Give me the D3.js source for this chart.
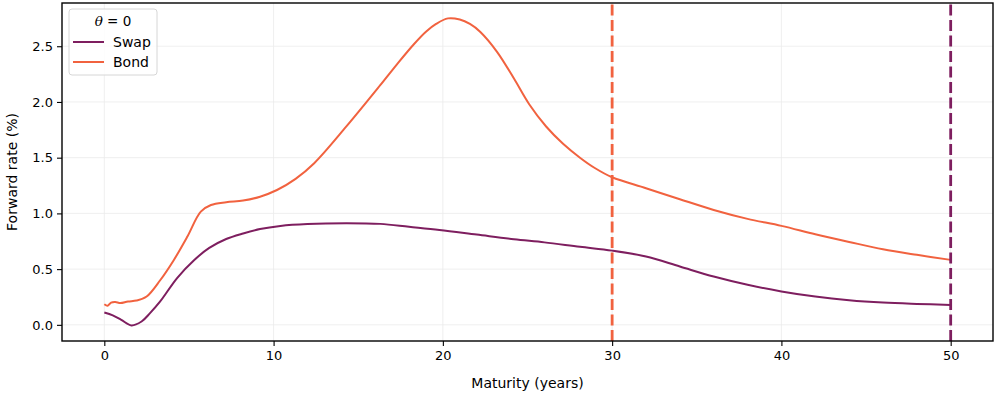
<!DOCTYPE html>
<html>
<head>
<meta charset="utf-8">
<script src="https://cdn.jsdelivr.net/npm/d3@7"></script>
<style>
  body { margin: 0; background: #fff; }
  svg { display: block; font-family: "DejaVu Sans", sans-serif; }
</style>
</head>
<body>
<script>
const W = 996, H = 395;
const margin = {left: 62, right: 3, top: 3, bottom: 54};

// ----- DATA -----
const swapT = [0, 0.5, 1, 1.6, 2.2, 2.7, 3.3, 4.3, 5.3, 6.2, 7.2, 8.2, 9.2, 10.4, 12, 14.3, 16.3, 18, 19.8, 22, 24.2, 26, 28.1, 30, 32, 34, 36, 38, 40, 42, 44, 46, 48, 50];
const swapV = [0.11, 0.085, 0.045, -0.005, 0.03, 0.105, 0.21, 0.42, 0.58, 0.69, 0.77, 0.82, 0.86, 0.888, 0.905, 0.912, 0.906, 0.88, 0.852, 0.81, 0.768, 0.74, 0.70, 0.666, 0.613, 0.523, 0.433, 0.359, 0.30, 0.254, 0.221, 0.20, 0.188, 0.179];

const bondT = [0, 0.2, 0.4, 0.65, 0.95, 1.4, 1.9, 2.5, 3.3, 4.1, 4.9, 5.7, 6.3, 7.2, 8.2, 9.2, 10.2, 11.3, 12.4, 14.3, 16.3, 17.3, 18.3, 19.0, 19.6, 20.3, 21.0, 21.6, 22.2, 23.2, 24.2, 25.1, 26.1, 27.1, 28.1, 29, 30, 32, 34, 36, 38, 40, 42, 44, 46, 48, 50];
const bondV = [0.185, 0.172, 0.2, 0.205, 0.195, 0.21, 0.218, 0.254, 0.40, 0.58, 0.79, 1.016, 1.075, 1.10, 1.115, 1.15, 1.21, 1.31, 1.45, 1.78, 2.15, 2.34, 2.52, 2.63, 2.70, 2.75, 2.74, 2.70, 2.63, 2.45, 2.21, 1.98, 1.78, 1.625, 1.50, 1.405, 1.324, 1.226, 1.127, 1.031, 0.951, 0.888, 0.813, 0.744, 0.678, 0.628, 0.583];

const xTicks = [0, 10, 20, 30, 40, 50];
const yTicks = [0, 0.5, 1.0, 1.5, 2.0, 2.5];
const cutoffs = [{t: 30, name: "Bond"}, {t: 50, name: "Swap"}];

const colors = {Swap: "#7e1e5f", Bond: "#f1623f"};

const series = [
  {name: "Swap", pts: swapT.map((t, i) => [t, swapV[i]])},
  {name: "Bond", pts: bondT.map((t, i) => [t, bondV[i]])}
];

// ----- SVG -----
const svg = d3.select("body").append("svg")
  .attr("width", W).attr("height", H);

const x = d3.scaleLinear().domain([-2.5, 52.5]).range([margin.left, W - margin.right]);
const y = d3.scaleLinear().domain([-0.145, 2.888]).range([H - margin.bottom, margin.top]);

// grid
svg.append("g").selectAll("line").data(xTicks).enter().append("line")
  .attr("x1", d => x(d)).attr("x2", d => x(d))
  .attr("y1", y.range()[0]).attr("y2", y.range()[1])
  .attr("stroke", "#ebebeb").attr("stroke-width", 0.8);
svg.append("g").selectAll("line").data(yTicks).enter().append("line")
  .attr("y1", d => y(d)).attr("y2", d => y(d))
  .attr("x1", x.range()[0]).attr("x2", x.range()[1])
  .attr("stroke", "#ebebeb").attr("stroke-width", 0.8);

// lines
const line = d3.line()
  .x(d => x(d[0])).y(d => y(d[1]))
  .curve(d3.curveCatmullRom.alpha(0.5));

svg.append("g").selectAll("path").data(series).enter().append("path")
  .attr("d", d => line(d.pts))
  .attr("fill", "none")
  .attr("stroke", d => colors[d.name])
  .attr("stroke-width", 2);

// cutoff lines
svg.append("g").selectAll("line").data(cutoffs).enter().append("line")
  .attr("x1", d => x(d.t)).attr("x2", d => x(d.t))
  .attr("y1", y.range()[0]).attr("y2", y.range()[1])
  .attr("stroke", d => colors[d.name])
  .attr("stroke-width", 2.8)
  .attr("stroke-dasharray", "11,4.5");

// axes
const xAxis = d3.axisBottom(x).tickValues(xTicks).tickSize(5).tickPadding(5).tickFormat(d3.format("d"));
const yAxis = d3.axisLeft(y).tickValues(yTicks).tickSize(5).tickPadding(4).tickFormat(d3.format(".1f"));

const gx = svg.append("g").attr("transform", `translate(0,${H - margin.bottom})`).call(xAxis);
const gy = svg.append("g").attr("transform", `translate(${margin.left},0)`).call(yAxis);
[gx, gy].forEach(g => {
  g.select(".domain").remove();
  g.selectAll("text").attr("font-size", 13).attr("fill", "#000").attr("font-family", "DejaVu Sans");
  g.selectAll("line").attr("stroke", "#000").attr("stroke-width", 1.1);
});

// frame
svg.append("rect")
  .attr("x", x.range()[0]).attr("y", y.range()[1])
  .attr("width", x.range()[1] - x.range()[0])
  .attr("height", y.range()[0] - y.range()[1])
  .attr("fill", "none").attr("stroke", "#000").attr("stroke-width", 1.4);

// axis labels
svg.append("text")
  .attr("x", (x.range()[0] + x.range()[1]) / 2).attr("y", 388)
  .attr("text-anchor", "middle").attr("font-size", 14)
  .text("Maturity (years)");
svg.append("text")
  .attr("transform", `translate(17,${(y.range()[0] + y.range()[1]) / 2}) rotate(-90)`)
  .attr("text-anchor", "middle").attr("font-size", 14)
  .text("Forward rate (%)");

// ----- LEGEND -----
const lg = svg.append("g").attr("transform", "translate(69,9)");
lg.append("rect")
  .attr("width", 88).attr("height", 66).attr("rx", 3)
  .attr("fill", "#fff").attr("fill-opacity", 0.8)
  .attr("stroke", "#d6d6d6").attr("stroke-width", 1);
const title = lg.append("text").attr("x", 44).attr("y", 17)
  .attr("text-anchor", "middle").attr("font-size", 13.5);
title.append("tspan").attr("font-style", "italic").attr("font-family", "DejaVu Serif").text("θ");
title.append("tspan").text(" = 0");
const items = lg.selectAll("g.item").data(series).enter().append("g")
  .attr("transform", (d, i) => `translate(0,${33 + i * 20})`);
items.append("line")
  .attr("x1", 4).attr("x2", 35)
  .attr("stroke", d => colors[d.name]).attr("stroke-width", 2);
items.append("text")
  .attr("x", 44).attr("y", 5).attr("font-size", 14)
  .text(d => d.name);
</script>
</body>
</html>
